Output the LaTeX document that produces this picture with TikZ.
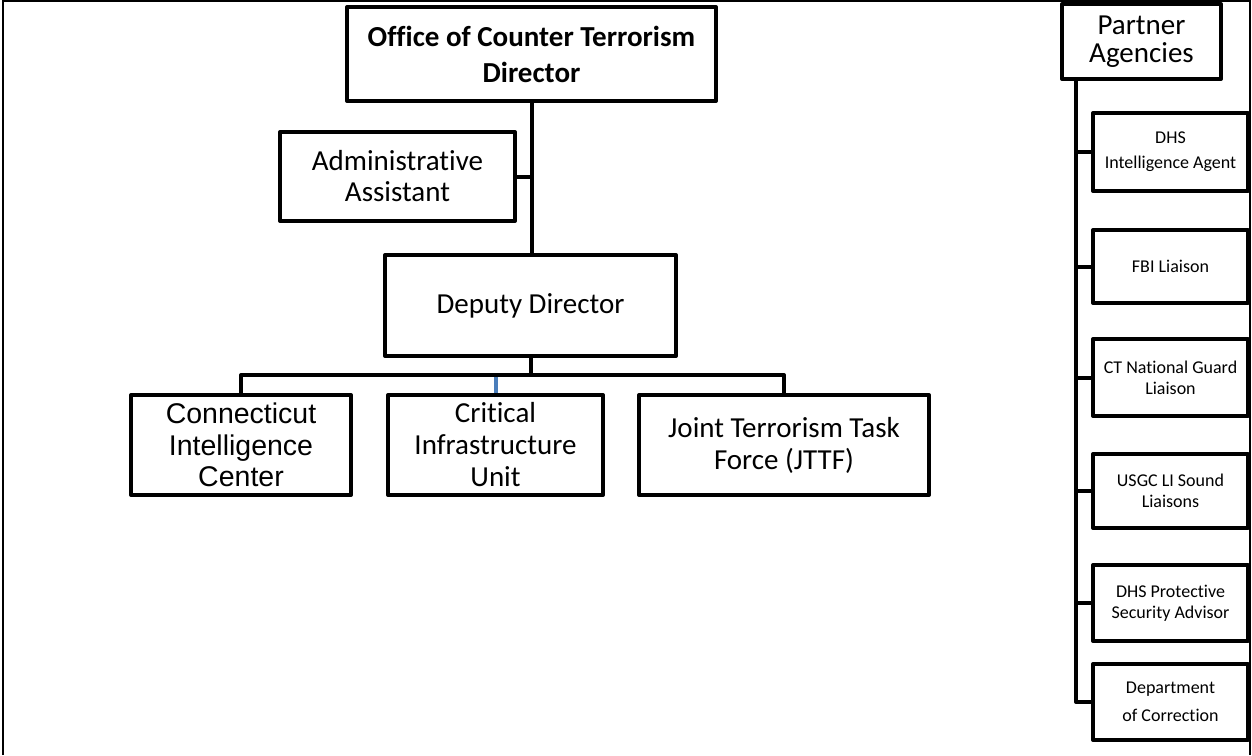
\documentclass[tikz,border=0pt]{standalone}
\usepackage{fontspec}
\setmainfont{Carlito}[Ligatures=NoCommon]
\newfontfamily\arialfont{Liberation Sans}
\usetikzlibrary{calc}
\tikzset{
  orgbox/.style={draw, line width=4pt, line join=round, rectangle, align=center, inner sep=0pt, font=\fontsize{29}{32}\selectfont},
  agentbox/.style={orgbox, minimum width=155pt, font=\fontsize{18}{21}\selectfont},
  link/.style={line width=4pt},
}
\begin{document}
\begin{tikzpicture}[x=1pt, y=-1pt]
	\useasboundingbox (0,0) rectangle (1252,755);
	\draw[line width=2pt] (3,755) -- (3,1) -- (1250,1) -- (1250,755);
	\node[orgbox, minimum width=369pt, minimum height=94pt, font=\fontsize{29}{36}\selectfont\bfseries] (dir) at (531.5,54) {Office of Counter Terrorism\\Director};
	\node[orgbox, minimum width=235pt, minimum height=89pt, font=\fontsize{29}{31}\selectfont] (admin) at (397.5,176.5) {Administrative\\Assistant};
	\node[orgbox, minimum width=291pt, minimum height=101pt] (deputy) at (530.5,305.5) {Deputy Director};
	\node[orgbox, minimum width=220pt, minimum height=100pt, font=\fontsize{28.5}{31.5}\arialfont] (cic) at (241,445) {Connecticut\\Intelligence\\Center};
	\node[orgbox, minimum width=215pt, minimum height=100pt] (ciu) at (495.5,445) {Critical\\Infrastructure\\Unit};
	\node[orgbox, minimum width=290pt, minimum height=100pt] (jttf) at (784,445) {Joint Terrorism Task\\Force (JTTF)};
	\coordinate (bus) at (530.5,375);
	\draw[link] (dir.south) -- (dir.south |- deputy.north);
	\draw[link] (admin.east) -- (admin.east -| dir.south);
	\draw[line width=4pt, color={rgb,255:red,74;green,126;blue,187}] (ciu.north) -- (ciu.north |- bus);
	\draw[link] (deputy.south) -- (bus);
	\draw[link, line join=round] (cic.north) |- (bus) -| (jttf.north);
	\node[orgbox, minimum width=159pt, minimum height=75pt, font=\fontsize{29}{28}\selectfont] (partner) at (1141.5,41.5) {Partner\\Agencies};
	\node[agentbox, minimum height=78pt] (dhsia) at (1170.5,152) {DHS\\[4pt]Intelligence Agent};
	\node[agentbox, minimum height=73pt] (fbi) at (1170.5,266.5) {FBI Liaison};
	\node[agentbox, minimum height=77pt] (ctng) at (1170.5,377.5) {CT National Guard\\Liaison};
	\node[agentbox, minimum height=74pt] (usgc) at (1170.5,491) {USGC LI Sound\\Liaisons};
	\node[agentbox, minimum height=76pt] (dhspsa) at (1170.5,603) {DHS Protective\\Security Advisor};
	\node[agentbox, minimum height=76pt] (doc) at (1170.5,702) {Department\\[7pt]of Correction};
	\coordinate (trunk) at ($(partner.south west)+(16,0)$);
	\draw[link, line join=round] (trunk) |- (doc.west);
	\foreach \a in {dhsia,fbi,ctng,usgc,dhspsa}
		\draw[link] (\a.west) -- (\a.west -| trunk);
\end{tikzpicture}
\end{document}
